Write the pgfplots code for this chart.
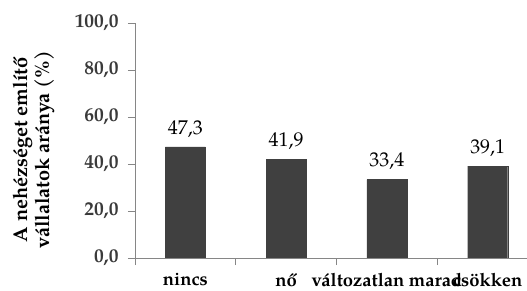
\documentclass[border=0pt]{standalone}
\usepackage{fontspec}
\setmainfont{texgyrepagella-regular.otf}[BoldFont=texgyrepagella-bold.otf]
\usepackage{pgfplots}
\pgfplotsset{compat=1.18}
\definecolor{barfill}{HTML}{404040}
\definecolor{axisgray}{HTML}{868686}
\definecolor{ticktext}{HTML}{3A3A3A}
\begin{document}
\begin{tikzpicture}
\useasboundingbox (0,0) rectangle (527bp,291bp);
\begin{axis}[
  at={(135bp,33bp)}, anchor=south west,
  scale only axis, width=392bp, height=235bp,
  xmin=-0.5, xmax=3.39, ymin=0, ymax=100,
  axis x line*=bottom, axis y line*=left,
  axis line style={axisgray, line width=0.9pt, -},
  ytick={0,20,40,60,80,100},
  xtick={0,1,2,3},
  xticklabels={nincs, nő, változatlan marad, csökken},
  minor xtick={-0.5,0.5,1.5,2.5},
  major x tick style={draw=none},
  minor tick length=7bp, major tick length=7bp,
  tick align=outside,
  every tick/.style={axisgray, line width=0.9pt},
  /pgf/number format/.cd, assume math mode=true, use comma, fixed, fixed zerofill, precision=1, /pgfplots/.cd,
  yticklabel style={font=\fontsize{19.5}{22}\selectfont\bfseries, text=ticktext, xshift=-6bp},
  xticklabel style={font=\fontsize{18.5}{20}\selectfont\bfseries, text=black, yshift=-5bp},
  ylabel={A nehézséget említő\\vállalatok aránya (\%)},
  every axis y label/.style={at={(rel axis cs:0,0.46)}, xshift=-101bp, anchor=center, rotate=90,
     font=\fontsize{20}{23}\selectfont\bfseries, align=center, text=black},
  nodes near coords,
  every node near coord/.append style={font=\fontsize{20}{22}\selectfont, text=black, yshift=6bp},
]
\addplot[ybar, bar width=40bp, fill=barfill, draw=barfill] coordinates {(0,47.3) (1,41.9) (2,33.4) (3,39.1)};
\end{axis}
\end{tikzpicture}
\end{document}
